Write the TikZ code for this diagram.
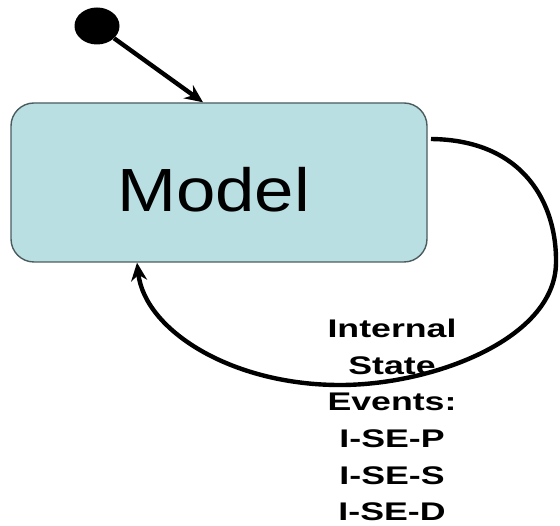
\documentclass[tikz,border=0pt]{standalone}
\usepackage{fontspec}
\setmainfont{Liberation Sans}
\usetikzlibrary{shapes.geometric,arrows.meta}
\definecolor{statefill}{HTML}{BADFE3}
\definecolor{stateedge}{HTML}{4A5C5E}
\tikzset{
  statebox/.style={draw=stateedge, line width=1.4pt, fill=statefill,
    rounded corners=23pt, minimum width=416pt, minimum height=159pt, inner sep=0pt},
  initdot/.style={ellipse, fill=black, minimum width=45pt, minimum height=37pt, inner sep=0pt},
  flow/.style={line width=4.4pt, -{Stealth[length=18pt,width=16pt]}},
  evlabel/.style={align=center, inner sep=0pt, font=\bfseries\fontsize{25.5}{36.6}\selectfont, xscale=1.4}
}
\begin{document}
\begin{tikzpicture}[x=1pt,y=-1pt]
  \useasboundingbox (0,0) rectangle (560,526);
  % state and initial pseudo-state
  \node[statebox] (model) at (219,182.5) {};
  \node[anchor=base, xscale=1.16, font=\fontsize{61}{61}\selectfont] (modeltext) at (213.5,212) {Model};
  \node[initdot] (init) at (97,26) {};
  % initial transition
  \draw[flow] (init) -- ([xshift=-16pt]model.north);
  % self transition on internal state events
  \coordinate (loopstart) at (431,139);
  \draw[flow] (loopstart) .. controls (525,140) and (557,205) .. (556,263)
     .. controls (555,340) and (430,386) .. (337,385)
     .. controls (230,384) and (145,330) .. ([xshift=-82pt]model.south);
  \node[evlabel, anchor=north] (events) at (392,319) {Internal\\State\\Events:\\I-SE-P\\I-SE-S\\I-SE-D};
\end{tikzpicture}
\end{document}
